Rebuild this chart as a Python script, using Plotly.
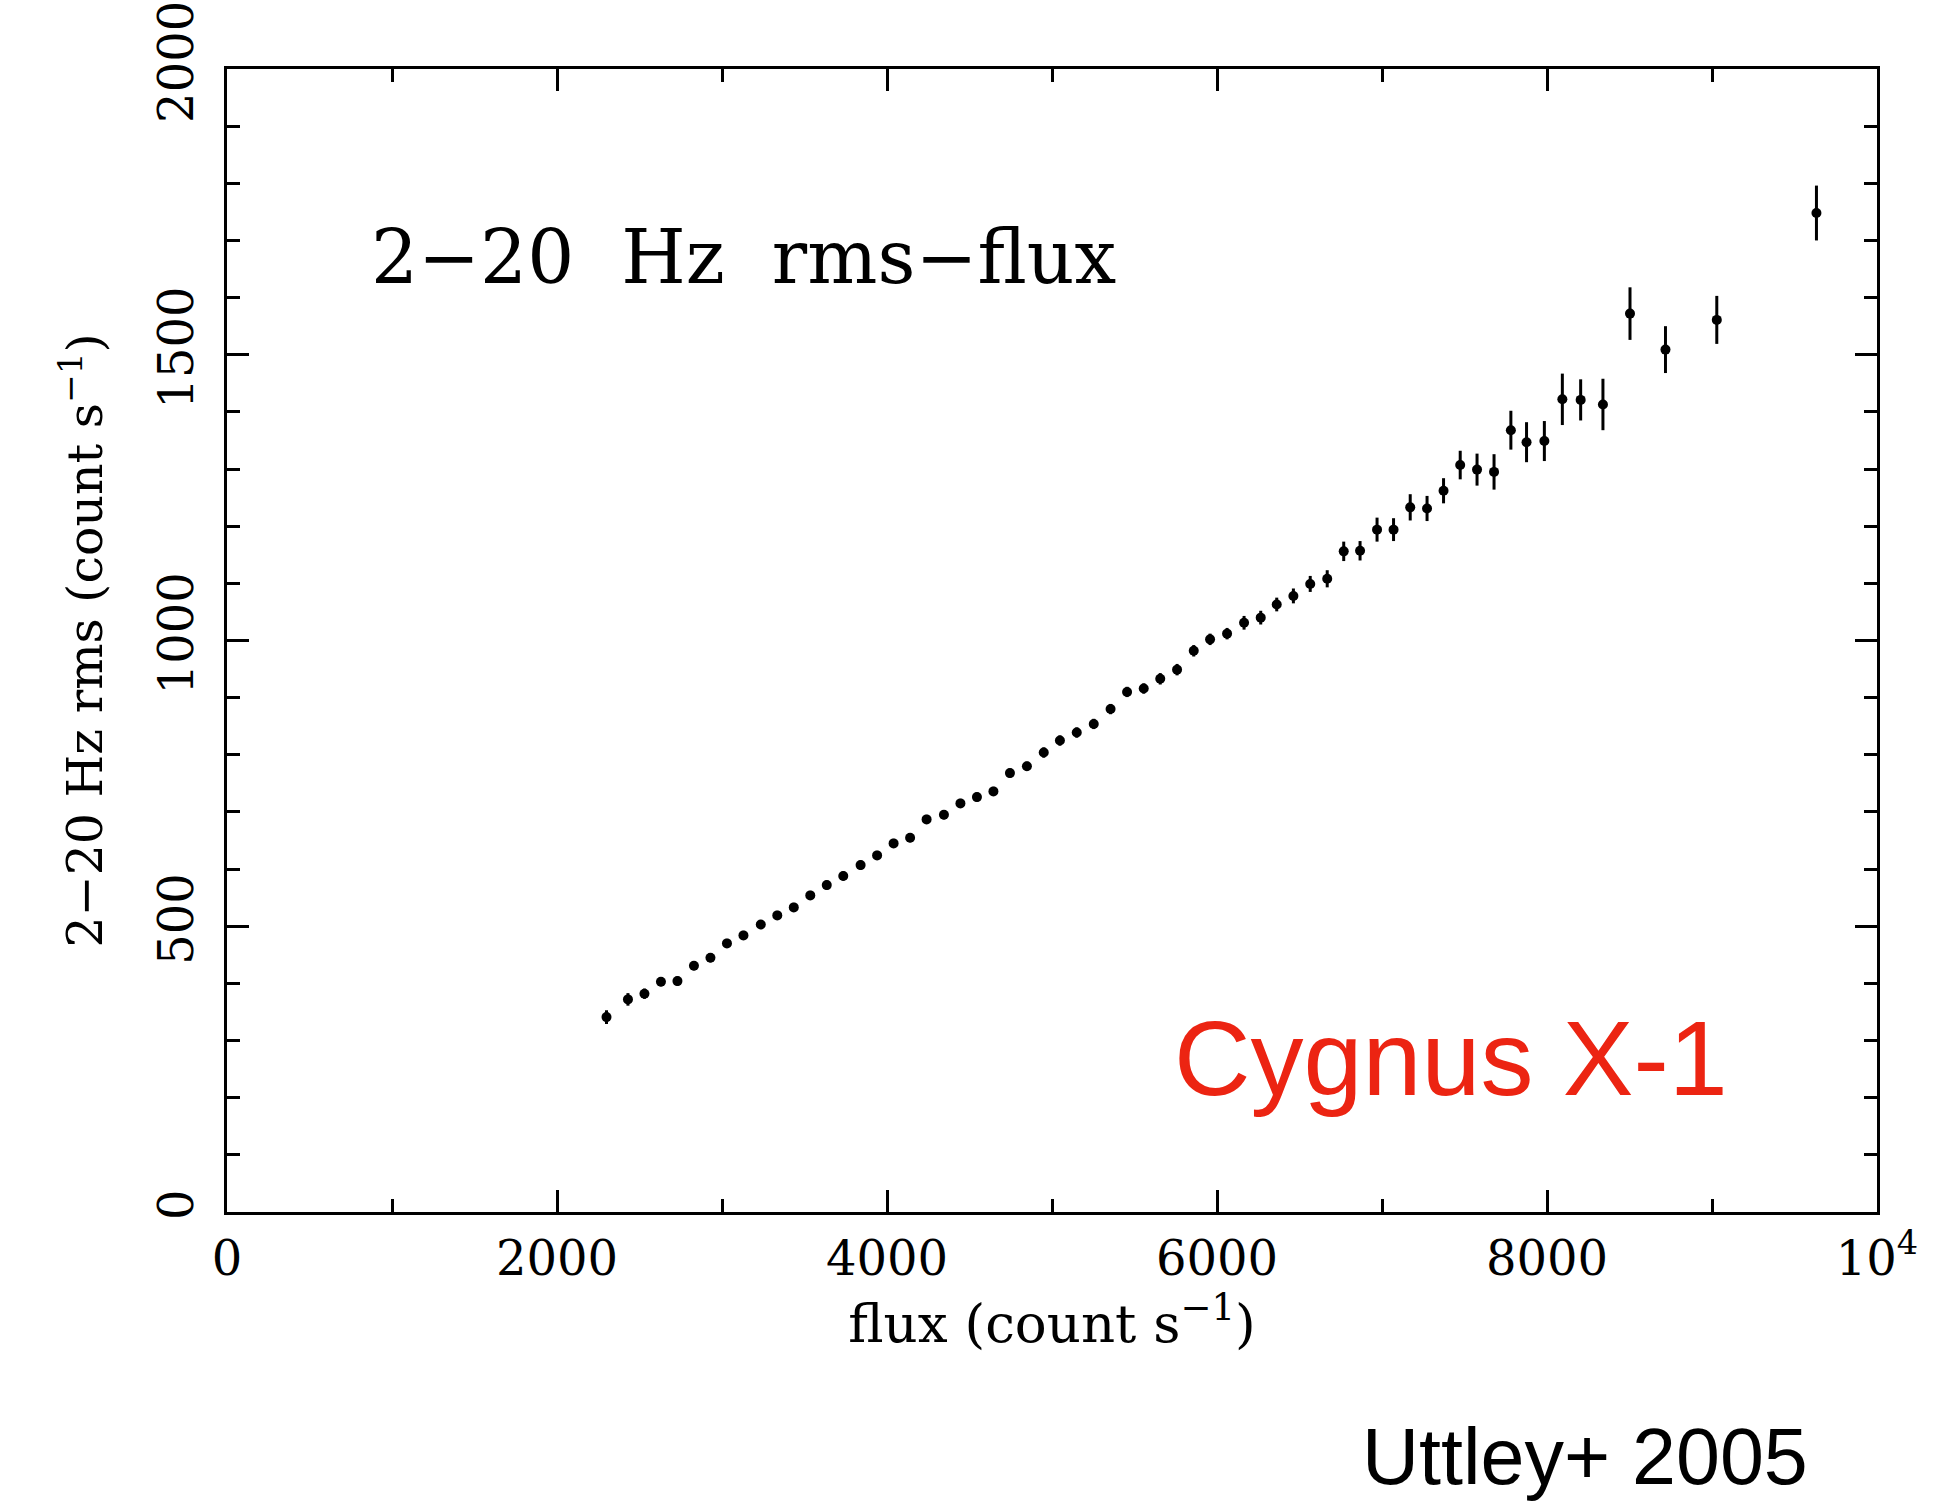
import plotly.graph_objects as go

# flux (count s^-1)
flux = [2300, 2430, 2530, 2630, 2730, 2830, 2930, 3030, 3130, 3235,
        3335, 3435, 3535, 3635, 3735, 3840, 3940, 4040, 4140, 4240,
        4345, 4445, 4545, 4645, 4745, 4848, 4950, 5048, 5150, 5253,
        5355, 5455, 5556, 5656, 5758, 5859, 5958, 6061, 6164, 6265,
        6362, 6463, 6565, 6668, 6768, 6867, 6970, 7070, 7171, 7273,
        7373, 7474, 7576, 7679, 7781, 7876, 7984, 8093, 8204, 8339,
        8503, 8718, 9029, 9633]
# 2-20 Hz rms (count s^-1)
rms = [341, 372, 382, 403, 404, 431, 445, 470, 484, 503,
       519, 533, 554, 572, 588, 607, 624, 645, 655, 687,
       695, 715, 726, 736, 768, 780, 804, 825, 839, 854,
       880, 910, 916, 933, 949, 982, 1002, 1012, 1031, 1040,
       1063, 1078, 1099, 1108, 1156, 1157, 1194, 1194, 1233, 1231,
       1262, 1307, 1299, 1295, 1368, 1347, 1349, 1422, 1421, 1413,
       1572, 1509, 1561, 1748]
rms_err = [12, 11, 9, 8, 8, 8, 8, 8, 8, 8,
           8, 8, 8, 8, 8, 8, 8, 8, 8, 8,
           8, 8, 8, 8, 8, 8, 9, 9, 9, 9,
           9, 9, 9, 10, 10, 10, 10, 10, 12, 12,
           12, 13, 14, 15, 17, 17, 21, 20, 23, 22,
           22, 25, 28, 31, 34, 35, 35, 45, 36, 45,
           46, 41, 42, 48]

x_tickvals = [0, 2000, 4000, 6000, 8000, 10000]
x_ticktext = ["0", "2000", "4000", "6000", "8000", "10<sup>4</sup>"]
y_tickvals = [0, 500, 1000, 1500, 2000]
y_ticktext = ["0", "500", "1000", "1500", "2000"]

SERIF = "DejaVu Serif"
SANS = "Liberation Sans, Arial, Helvetica, sans-serif"

fig = go.Figure()
fig.add_trace(go.Scatter(
    x=flux, y=rms, mode="markers",
    marker=dict(color="black", size=10, symbol="circle"),
    error_y=dict(type="data", array=rms_err, visible=True,
                 color="black", thickness=3, width=0),
    showlegend=False,
))

axis_common = dict(
    showgrid=False, zeroline=False, showline=True, linecolor="black",
    linewidth=3, mirror="allticks", ticks="inside", tickwidth=2.5,
    ticklen=22, tickcolor="black",
    tickfont=dict(family=SERIF, size=48, color="black"),
)

fig.update_layout(
    width=1957, height=1504,
    margin=dict(l=227, r=80, t=69, b=292, autoexpand=False),
    paper_bgcolor="white", plot_bgcolor="white",
    xaxis=dict(
        range=[0, 10000], tickmode="array", tickvals=x_tickvals,
        ticktext=x_ticktext,
        minor=dict(dtick=1000, ticks="inside", ticklen=13, tickwidth=2.5,
                   tickcolor="black", showgrid=False),
        title=dict(text="flux (count s<sup>−1</sup>)",
                   font=dict(family=SERIF, size=53, color="black"),
                   standoff=8),
        ticklabelstandoff=2,
        **axis_common,
    ),
    yaxis=dict(
        range=[0, 2000], tickmode="array", tickvals=y_tickvals,
        ticktext=y_ticktext, tickangle=-90,
        minor=dict(dtick=100, ticks="inside", ticklen=13, tickwidth=2.5,
                   tickcolor="black", showgrid=False),
        title=dict(text="2−20 Hz rms (count s<sup>−1</sup>)",
                   font=dict(family=SERIF, size=49, color="black"),
                   standoff=30),
        ticklabelstandoff=12,
        **axis_common,
    ),
    annotations=[
        dict(text="2−20  Hz  rms−flux", xref="paper", yref="paper",
             x=(369 - 227) / 1650, y=(1212 - 257) / 1143.4,
             xanchor="left", yanchor="middle", showarrow=False,
             font=dict(family=SERIF, size=74, color="black")),
        dict(text="Cygnus X-1", xref="paper", yref="paper",
             x=(1172 - 227) / 1650, y=(1212 - 1058) / 1143.4,
             xanchor="left", yanchor="middle", showarrow=False,
             font=dict(family=SANS, size=106, color="#EC2412")),
        dict(text="Uttley+ 2005", xref="paper", yref="paper",
             x=(1360 - 227) / 1650, y=(1212 - 1457) / 1143.4,
             xanchor="left", yanchor="middle", showarrow=False,
             font=dict(family=SANS, size=79, color="black")),
    ],
)

fig.write_html("out.html")
